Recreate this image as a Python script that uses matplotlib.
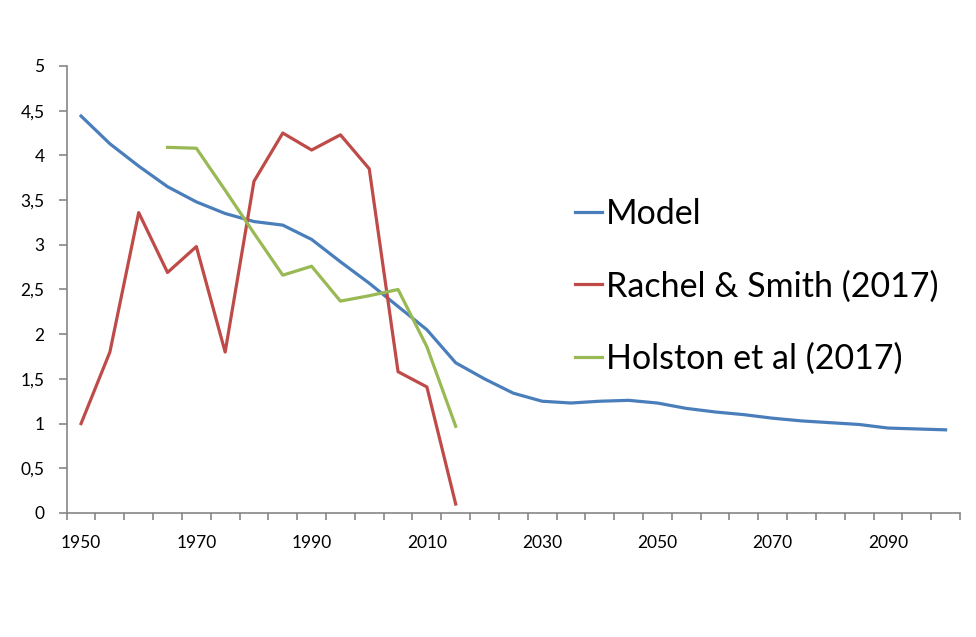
import numpy as np
import matplotlib.pyplot as plt
from matplotlib.ticker import FixedLocator

plt.rcParams['font.family'] = ['Lato', 'DejaVu Sans']

years = list(range(1950, 2101, 5))

model = [4.44, 4.13, 3.88, 3.65, 3.48, 3.35, 3.26, 3.22, 3.06, 2.81,
         2.57, 2.31, 2.05, 1.68, 1.50, 1.34, 1.25, 1.23, 1.25, 1.26,
         1.23, 1.17, 1.13, 1.10, 1.06, 1.03, 1.01, 0.99, 0.95, 0.94, 0.93]

rachel_years = list(range(1950, 2016, 5))
rachel = [1.00, 1.80, 3.36, 2.69, 2.98, 1.80, 3.71, 4.25, 4.06, 4.23,
          3.85, 1.58, 1.41, 0.10]

holston_years = list(range(1965, 2016, 5))
holston = [4.09, 4.08, 3.61, 3.13, 2.66, 2.76, 2.37, 2.43, 2.50, 1.86, 0.97]

labels = ["Model", "Rachel & Smith (2017)", "Holston et al (2017)"]
colors = ["#4a7ebb", "#be4b48", "#98b954"]


def pos(yrs):
    # category axis: each year sits in the middle of its slot
    return [years.index(y) + 0.5 for y in yrs]


fig = plt.figure(figsize=(9.76, 6.37), dpi=100)
ax = fig.add_axes([0.0683, 0.1947, 0.9153, 0.7017])

ax.plot(pos(years), model, color=colors[0], lw=2.3, label=labels[0])
ax.plot(pos(rachel_years), rachel, color=colors[1], lw=2.3, label=labels[1])
ax.plot(pos(holston_years), holston, color=colors[2], lw=2.3, label=labels[2])

ax.set_xlim(0, len(years))
ax.set_ylim(0, 5)

grey = "#868686"
for s in ["top", "right"]:
    ax.spines[s].set_visible(False)
for s in ["left", "bottom"]:
    ax.spines[s].set_color(grey)
    ax.spines[s].set_linewidth(1.2)

ax.xaxis.set_major_locator(FixedLocator(np.arange(0, len(years) + 1)))
ax.set_xticklabels([])
ax.tick_params(axis="x", which="major", length=5, width=1.2, color=grey)
ax.set_xticks([i + 0.5 for i in range(0, len(years), 4)], minor=True)
ax.set_xticklabels([str(years[i]) for i in range(0, len(years), 4)], minor=True)
ax.tick_params(axis="x", which="minor", length=0, pad=16, labelsize=12.5)

yt = np.arange(0, 5.01, 0.5)
ax.set_yticks(yt)
ax.set_yticklabels([("%g" % v).replace(".", ",") for v in yt])
ax.tick_params(axis="y", length=6, width=1.2, color=grey, pad=10, labelsize=12.5)

leg = ax.legend(loc="upper left", bbox_to_anchor=(575 / 976, 1 - 198 / 637),
                bbox_transform=fig.transFigure, frameon=False, fontsize=24.5,
                handlelength=0.8, handletextpad=0.1, labelspacing=1.18,
                borderpad=0, borderaxespad=0)

fig.savefig("out.png", dpi=100)
